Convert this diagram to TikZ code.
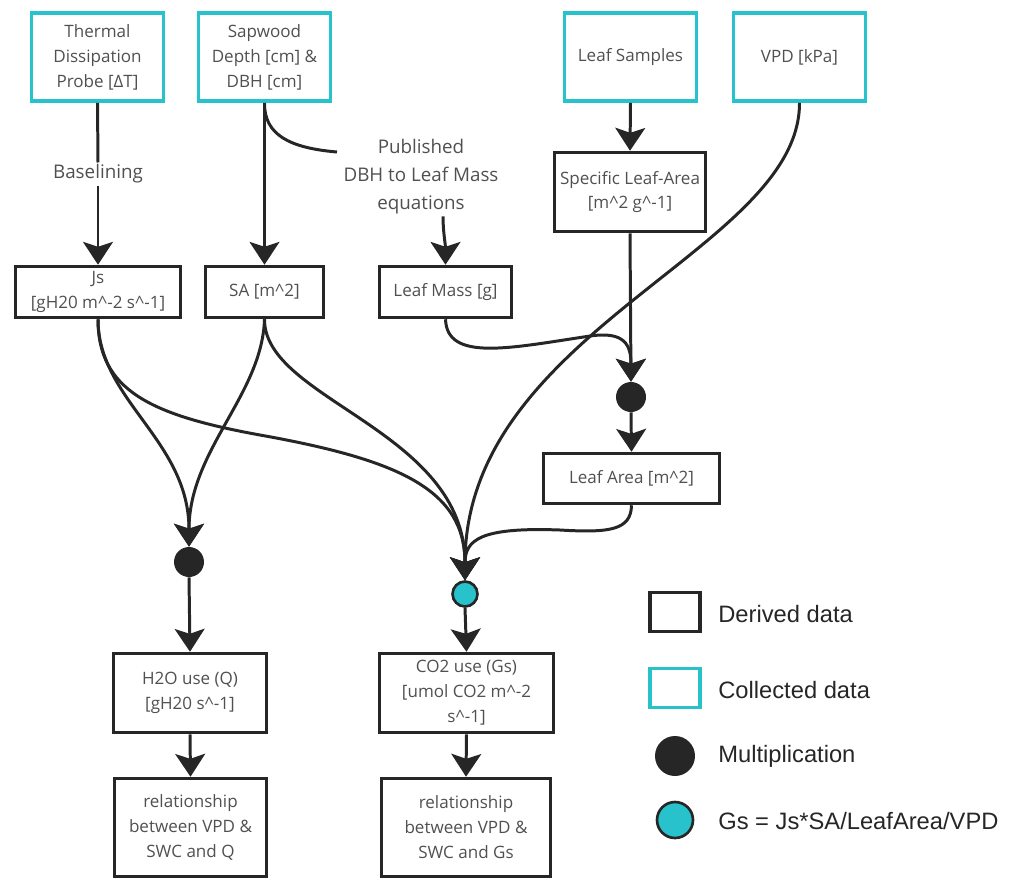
\documentclass[tikz,border=0pt]{standalone}
\usepackage{fontspec}
\setmainfont{Open Sans}
\newfontfamily\legfont{Liberation Sans}
\usetikzlibrary{arrows.meta}
\definecolor{cyanbox}{RGB}{40,194,204}
\definecolor{ink}{RGB}{38,38,38}
\definecolor{txt}{RGB}{80,80,80}
\begin{document}
\begin{tikzpicture}[x=0.02cm,y=-0.02cm,
  boxbase/.style={draw, line width=2pt, inner sep=1pt, align=center,
    font=\fontsize{9.7}{14.2}\selectfont, text=txt},
  collected/.style={boxbase, draw=cyanbox},
  derived/.style={boxbase, draw=ink},
  lbl/.style={align=center, text=txt, inner sep=1pt, font=\fontsize{10.7}{15.9}\selectfont},
  conn/.style={draw=ink, line width=1.7pt},
  arr/.style={conn, -{Stealth[length=13pt,width=17pt,inset=2.8pt]}},
  multdot/.style={circle, fill=ink, minimum size=30*0.02cm, inner sep=0pt},
  gsdot/.style={circle, fill=cyanbox, draw=ink, line width=1.5pt, minimum size=25*0.02cm, inner sep=0pt},
  legtxt/.style={anchor=west, text=black!85, font=\legfont\fontsize{13.5}{16}\selectfont, inner sep=0pt}
]
\useasboundingbox (0,0) rectangle (1011,880);

% collected data
\node[collected, minimum width=132*0.02cm, minimum height=88*0.02cm] (th) at (97.5,57) {Thermal\\Dissipation\\Probe [ΔT]};
\node[collected, minimum width=132*0.02cm, minimum height=88*0.02cm] (sw) at (264.5,57) {Sapwood\\Depth [cm] \&\\DBH [cm]};
\node[collected, minimum width=132*0.02cm, minimum height=88*0.02cm] (ls) at (630.5,57) {Leaf Samples};
\node[collected, minimum width=132*0.02cm, minimum height=88*0.02cm] (vpd) at (799.5,57) {VPD [kPa]};

% derived data
\node[derived, minimum width=165*0.02cm, minimum height=51*0.02cm] (js) at (98,292) {Js\\{}[gH20 m\textasciicircum-2 s\textasciicircum-1]};
\node[derived, minimum width=118*0.02cm, minimum height=51*0.02cm] (sa) at (264.5,292) {SA [m\textasciicircum2]};
\node[derived, minimum width=132*0.02cm, minimum height=51*0.02cm] (lm) at (445.5,292) {Leaf Mass [g]};
\node[derived, minimum width=151*0.02cm, minimum height=79*0.02cm] (sla) at (630,192) {Specific Leaf-Area\\{}[m\textasciicircum2 g\textasciicircum-1]};
\node[derived, minimum width=176*0.02cm, minimum height=50*0.02cm] (la) at (631.5,478.5) {Leaf Area [m\textasciicircum2]};
\node[derived, minimum width=153*0.02cm, minimum height=79*0.02cm] (h2o) at (190,693) {H2O use (Q)\\{}[gH20 s\textasciicircum-1]};
\node[derived, minimum width=174*0.02cm, minimum height=79*0.02cm] (co2) at (466.5,693) {CO2 use (Gs)\\{}[umol CO2 m\textasciicircum-2\\s\textasciicircum-1]};
\node[derived, minimum width=152*0.02cm, minimum height=98*0.02cm] (rq) at (190.5,827.5) {relationship\\between VPD \&\\SWC and Q};
\node[derived, minimum width=169*0.02cm, minimum height=98*0.02cm] (rg) at (466,827.5) {relationship\\between VPD \&\\SWC and Gs};

% operators
\node[multdot] (m1) at (631,397) {};
\node[multdot] (m2) at (189,562) {};
\node[gsdot] (cy) at (465,594) {};

% labels
\node[lbl] (base) at (98,174) {Baselining};
\node[lbl] (pub) at (421,177) {Published\\DBH to Leaf Mass\\equations};
\coordinate (pubL) at (337,152);

% connectors
\draw[conn] (th.south) -- (base.north);
\draw[arr] (base.south) -- (js.north);
\draw[arr] (sw.south) -- (sa.north);
\draw[conn] (sw.south) .. controls (264,135) and (290,148) .. (pubL);
\draw[arr] ([xshift=0.44cm]pub.south) .. controls +(0,15) and +(0,-20) .. (lm.north);
\draw[arr] (ls.south) -- (sla.north);
\draw[arr] (sla.south) -- (m1.north);
\draw[arr] (lm.south) .. controls (447,362) and (510,348) .. (590,336) .. controls (625,331) and (631,345) .. (m1.north);
\draw[arr] (m1.south) -- (la.north);

\draw[arr] (js.south) .. controls (98,400) and (189,440) .. (m2.north);
\draw[arr] (sa.south) .. controls (262,395) and (189,450) .. (m2.north);
\draw[arr] (js.south) .. controls (98,390) and (150,415) .. (260,435) .. controls (400,460) and (465,490) .. (cy.north);
\draw[arr] (sa.south) .. controls (264,400) and (465,430) .. (cy.north);
\draw[arr] (vpd.south) .. controls (800,250) and (465,330) .. (cy.north);
\draw[arr] (la.south) .. controls (631,530) and (610,533) .. (560,530) .. controls (480,527) and (465,540) .. (cy.north);

\draw[arr] (m2.south) -- (h2o.north);
\draw[arr] (cy.south) -- (co2.north);
\draw[arr] (h2o.south) -- (rq.north);
\draw[arr] (co2.south) -- (rg.north);

% legend
\node[derived, minimum width=50*0.02cm, minimum height=39*0.02cm] (legd) at (675,612) {};
\node[collected, minimum width=50*0.02cm, minimum height=39*0.02cm] (legc) at (675,688) {};
\node[multdot, minimum size=40*0.02cm] (legm) at (675,756) {};
\node[gsdot, minimum size=36*0.02cm] (legg) at (675,820) {};
\node[legtxt] at (718,614) {Derived data};
\node[legtxt] at (718,690) {Collected data};
\node[legtxt] at (718,756) {Multiplication};
\node[legtxt] at (718,821) {Gs = Js*SA/LeafArea/VPD};
\end{tikzpicture}
\end{document}
